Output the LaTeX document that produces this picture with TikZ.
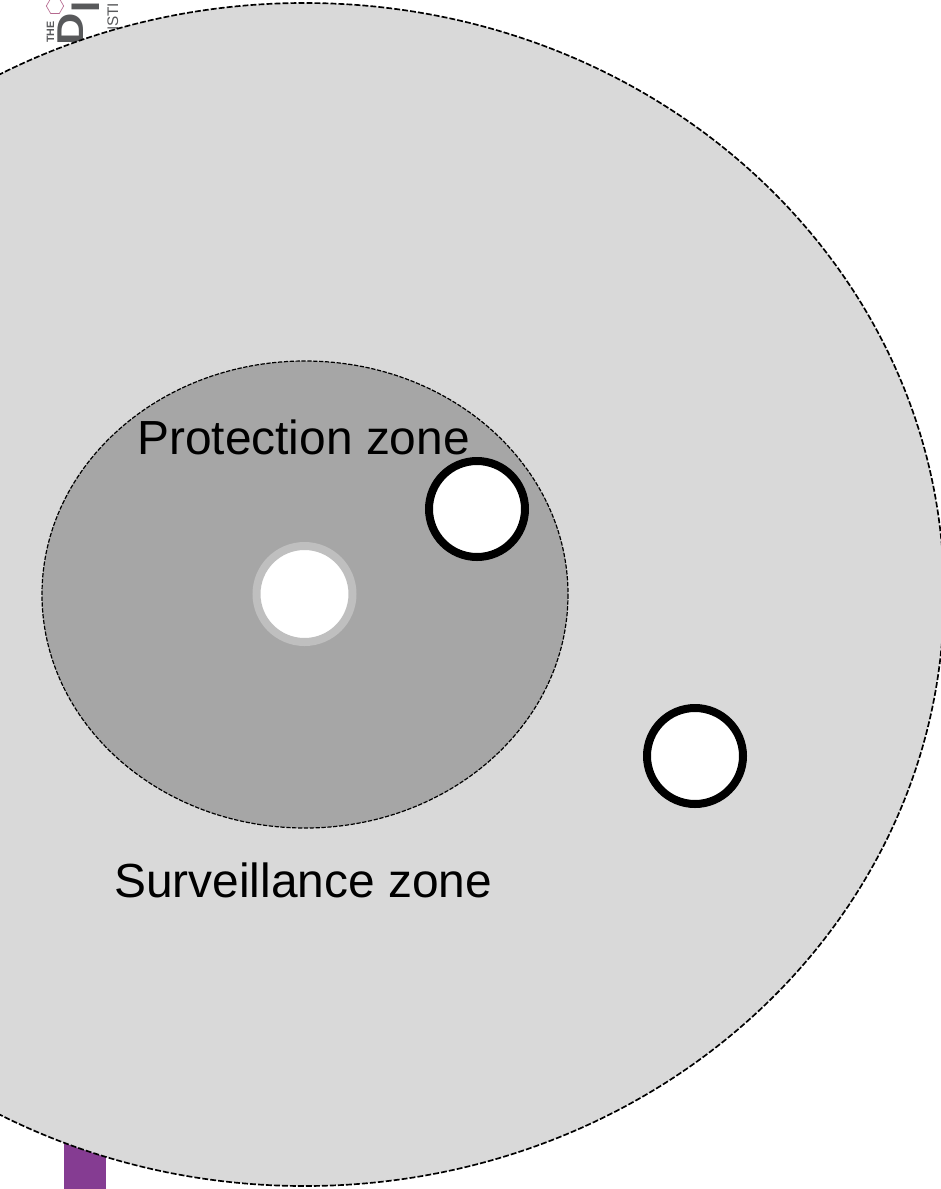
\documentclass[tikz,border=0pt]{standalone}
\usepackage{fontspec}
\setmainfont{Liberation Sans}
\usepackage{xcolor}
\usepackage{tikz}
\usetikzlibrary{shapes.geometric}
\definecolor{outerzone}{HTML}{D9D9D9}
\definecolor{innerzone}{HTML}{A6A6A6}
\definecolor{farmring}{HTML}{BFBFBF}
\definecolor{logogrey}{HTML}{58595B}
\definecolor{logopink}{HTML}{B5698F}
\definecolor{logopurple}{HTML}{853C92}

\begin{document}
\begin{tikzpicture}[
  x=0.75pt, y=-0.75pt,
  zone/.style={draw=black, line width=1.25pt, dash pattern=on 4.4pt off 1.6pt},
  innerline/.style={draw=black, line width=0.9pt, dash pattern=on 3.2pt off 1.2pt},
  farm/.style={circle, draw=black, fill=white, line width=6pt, minimum size=72pt, inner sep=0pt},
  lab/.style={font=\fontsize{35.9}{40}\selectfont, inner sep=0pt, text=black},
  logo/.style={text=logogrey, inner sep=0pt, rotate=90},
]
\useasboundingbox (0,0) rectangle (941,1189);
\clip (0,0) rectangle (941,1189);
% logo behind the zones
\node[logo, font=\bfseries\fontsize{8}{8}\selectfont] (the) at (50.5,32) {THE};
\node[regular polygon, regular polygon sides=6, draw=logopink, line width=0.5pt, minimum size=13pt, inner sep=0pt] (hexagon) at (55,6) {};
\node[logo, xscale=1.2, font=\bfseries\fontsize{28}{28}\selectfont] (letterd) at (70.5,29) {D};
\node[logo, font=\bfseries\fontsize{30}{30}\selectfont] (letteri) at (86,6.5) {I};
\node[logo, font=\fontsize{11.5}{11.5}\selectfont, anchor=base west] (insti) at (118,38) {NSTI};
\fill[logopurple] (63.5,1130) rectangle (106,1189);
% zones
\draw[zone, fill=outerzone] (304.5,594.5) ellipse [x radius=639.5, y radius=591.5];
\draw[innerline, fill=innerzone] (305,594.5) ellipse [x radius=263, y radius=233.5];
% premises
\node[farm, draw=farmring] (infected) at (304.5,594) {};
\node[farm] (farmone) at (477,509) {};
\node[farm] (farmtwo) at (695,756) {};
\node[lab, anchor=base west] (protection) at (137,454.5) {Protection zone};
\node[lab, anchor=base west] (surveillance) at (114,897.7) {Surveillance zone};
\end{tikzpicture}
\end{document}
